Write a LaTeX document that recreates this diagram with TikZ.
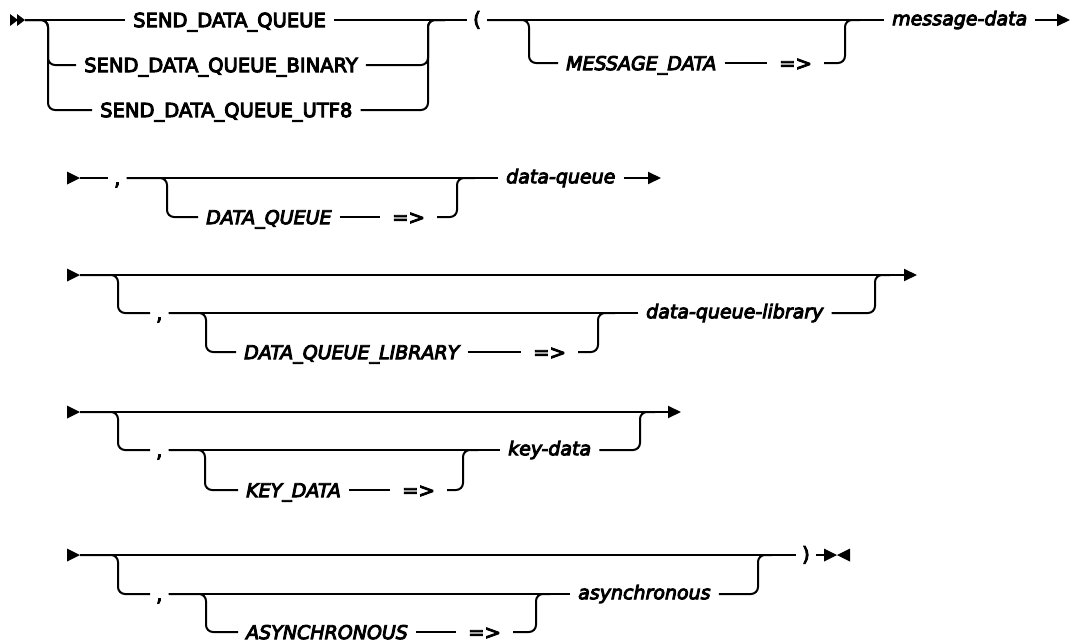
\documentclass[tikz,border=0pt]{standalone}
\usepackage{fontspec}
\setmainfont{DejaVu Sans}[UprightFeatures={FakeBold=5}, ItalicFeatures={FakeBold=5}]
\usetikzlibrary{arrows.meta}
\tikzset{
  rr/.style={line width=2pt, rounded corners=7pt},
  endarrow/.style={-{Triangle[length=13pt,width=12pt]}},
  basefont/.style={font=\fontsize{19.5}{23}\selectfont},
  kw/.style={basefont, anchor=west, inner xsep=8pt, inner ysep=0pt, text height=14.2pt, text depth=0pt},
  ikw/.style={kw, font=\fontsize{19}{23}\selectfont\itshape},
  var/.style={kw, font=\fontsize{19}{23}\selectfont\itshape, text height=10.5pt},
  sym/.style={kw, inner xsep=6pt},
  paren/.style={kw, inner xsep=6pt, text height=12pt},
  op/.style={kw, inner xsep=12pt},
}
\begin{document}
\begin{tikzpicture}[x=1pt,y=-1pt]
\useasboundingbox (0,0) rectangle (1072,643);

% ---------------- Row 1 ----------------
\fill (10,14) -- (18,20) -- (10,26) -- cycle;
\fill (17,14) -- (25,20) -- (17,26) -- cycle;
\coordinate (s1) at (25,20);
\node[kw] (n1a) at (125,20) {SEND\_DATA\_QUEUE\hspace{8pt}};
\node[kw] (n1b) at (76,65) {SEND\_DATA\_QUEUE\_BINARY\hspace{8pt}};
\node[kw] (n1c) at (92,110) {SEND\_DATA\_QUEUE\_UTF8\hspace{8pt}};
\coordinate (b1a) at (48,65);
\coordinate (b1b) at (48,110);
\coordinate (j1) at (428,20);
\coordinate (m1) at (445,20);
\node[paren] (n1p) at (467,20) {(};
\coordinate (b1c) at (529,63);
\node[ikw] (n1m) at (558,63) {MESSAGE\_DATA\hspace{8pt}};
\node[op] (n1o) at (767,63) {=>};
\coordinate (j1b) at (845,20);
\coordinate (m1b) at (860,20);
\node[var] (n1v) at (884,20) {message-data};
\coordinate (e1) at (1070,20);

\draw[rr] (s1) -- (n1a);
\draw[rr] (s1) -| (b1a) -- (n1b);
\draw[rr] (s1) -| (b1b) -- (n1c);
\draw[rr] (n1b) -| (j1) -- (m1);
\draw[rr] (n1c) -| (j1) -- (m1);
\draw[rr] (n1a) -- (n1p);
\draw[rr] (n1p) -- (n1v);
\draw[rr] (n1p) -| (b1c) -- (n1m);
\draw[rr] (n1m) -- (n1o);
\draw[rr] (n1o) -| (j1b) -- (m1b);
\draw[rr,endarrow] (n1v) -- (e1);

% ---------------- Row 2 ----------------
\fill (67,171.5) -- (80,178) -- (67,184.5) -- cycle;
\coordinate (s2) at (80,178);
\node[sym] (n2c) at (108,178) {,};
\node[var] (n2v) at (498,178) {data-queue};
\coordinate (b2) at (167,217);
\node[ikw] (n2k) at (198,217) {DATA\_QUEUE\hspace{8pt}};
\node[op] (n2o) at (380,217) {=>};
\coordinate (j2) at (457,178);
\coordinate (m2) at (475,178);
\coordinate (e2) at (661,178);

\draw[rr] (s2) -- (n2c);
\draw[rr] (n2c) -- (n2v);
\draw[rr] (n2c) -| (b2) -- (n2k);
\draw[rr] (n2k) -- (n2o);
\draw[rr] (n2o) -| (j2) -- (m2);
\draw[rr,endarrow] (n2v) -- (e2);

% ---------------- Row 3 ----------------
\fill (67,268.5) -- (80,275) -- (67,281.5) -- cycle;
\coordinate (s3) at (80,275);
\coordinate (e3) at (917,275);
\coordinate (b3) at (118,313);
\node[sym] (n3c) at (150,313) {,};
\node[var] (n3v) at (638,313) {data-queue-library\hspace{7pt}};
\coordinate (j3) at (875,275);
\coordinate (m3) at (890,275);
\coordinate (b3b) at (206,352);
\node[ikw] (n3k) at (236,352) {DATA\_QUEUE\_LIBRARY\hspace{8pt}};
\node[op] (n3o) at (521,352) {=>};
\coordinate (j3b) at (598,313);
\coordinate (m3b) at (615,313);

\draw[rr,endarrow] (s3) -- (e3);
\draw[rr] (s3) -| (b3) -- (n3c);
\draw[rr] (n3c) -- (n3v);
\draw[rr] (n3v) -| (j3) -- (m3);
\draw[rr] (n3c) -| (b3b) -- (n3k);
\draw[rr] (n3k) -- (n3o);
\draw[rr] (n3o) -| (j3b) -- (m3b);

% ---------------- Row 4 ----------------
\fill (67,405.5) -- (80,412) -- (67,418.5) -- cycle;
\coordinate (s4) at (80,412);
\coordinate (e4) at (681,412);
\coordinate (b4) at (118,450);
\node[sym] (n4c) at (150,450) {,};
\node[var] (n4v) at (500,450) {key-data\hspace{7pt}};
\coordinate (j4) at (640,412);
\coordinate (m4) at (655,412);
\coordinate (b4b) at (205,490);
\node[ikw] (n4k) at (238,490) {KEY\_DATA\hspace{8pt}};
\node[op] (n4o) at (390,490) {=>};
\coordinate (j4b) at (463,450);
\coordinate (m4b) at (478,450);

\draw[rr,endarrow] (s4) -- (e4);
\draw[rr] (s4) -| (b4) -- (n4c);
\draw[rr] (n4c) -- (n4v);
\draw[rr] (n4v) -| (j4) -- (m4);
\draw[rr] (n4c) -| (b4b) -- (n4k);
\draw[rr] (n4k) -- (n4o);
\draw[rr] (n4o) -| (j4b) -- (m4b);

% ---------------- Row 5 ----------------
\fill (67,548.5) -- (80,555) -- (67,561.5) -- cycle;
\coordinate (s5) at (80,555);
\node[paren] (n5p) at (796,555) {)};
\coordinate (b5) at (118,594);
\node[sym] (n5c) at (150,594) {,};
\node[var] (n5v) at (570,594) {asynchronous\hspace{7pt}};
\coordinate (j5) at (758,555);
\coordinate (m5) at (772,555);
\coordinate (b5b) at (206,632);
\node[ikw] (n5k) at (238,632) {ASYNCHRONOUS\hspace{8pt}};
\node[op] (n5o) at (456,632) {=>};
\coordinate (j5b) at (536,594);
\coordinate (m5b) at (550,594);
\coordinate (x5) at (825,555);

\draw[rr] (s5) -- (n5p);
\draw[rr] (s5) -| (b5) -- (n5c);
\draw[rr] (n5c) -- (n5v);
\draw[rr] (n5v) -| (j5) -- (m5);
\draw[rr] (n5c) -| (b5b) -- (n5k);
\draw[rr] (n5k) -- (n5o);
\draw[rr] (n5o) -| (j5b) -- (m5b);
\draw[rr] (n5p) -- (x5);
\fill (824,548.5) -- (837,555) -- (824,561.5) -- cycle;
\fill (850,548.5) -- (837,555) -- (850,561.5) -- cycle;
\end{tikzpicture}
\end{document}
